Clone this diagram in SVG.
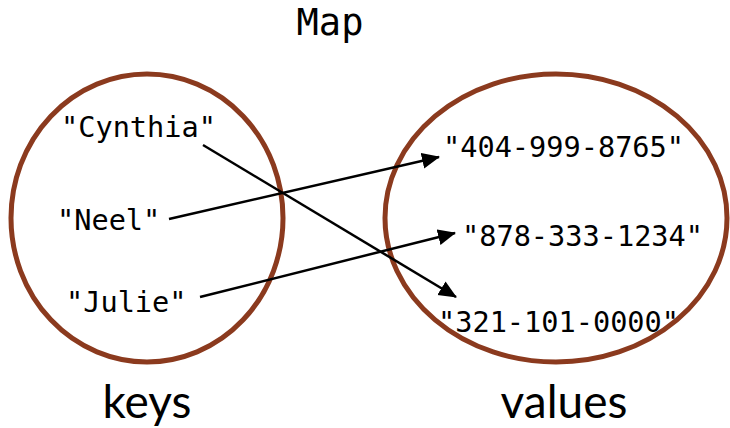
<svg xmlns="http://www.w3.org/2000/svg" width="730" height="428" viewBox="0 0 730 428">
<style>
.set{fill:none;stroke:#8B3A1E;stroke-width:5}
.mono{font-family:"DejaVu Sans Mono","Liberation Mono",monospace;font-size:28.6px;fill:#000}
.title{font-family:"DejaVu Sans Mono","Liberation Mono",monospace;font-size:37px;fill:#000}
.cap{font-family:Lato,"Open Sans",sans-serif;font-size:46px;fill:#000}
.arrow{stroke:#000;stroke-width:2.5;fill:none;marker-end:url(#ah)}
</style>
<defs>
<marker id="ah" markerUnits="userSpaceOnUse" markerWidth="20" markerHeight="18" refX="17" refY="8" orient="auto">
<path d="M0,0 L18,8 L0,16 z" fill="#000"/>
</marker>
</defs>
<rect width="730" height="428" fill="#fff"/>
<g id="title"><text class="title" x="330" y="35" text-anchor="middle">Map</text></g>
<g id="keys-set">
<ellipse class="set" cx="147" cy="218" rx="136" ry="144"/>
<text class="cap" x="147" y="418" text-anchor="middle">keys</text>
</g>
<g id="values-set">
<ellipse class="set" cx="556" cy="218" rx="171" ry="144"/>
<text class="cap" x="564" y="418" text-anchor="middle">values</text>
</g>
<g id="key-cynthia"><text class="mono" x="61" y="137">"Cynthia"</text></g>
<g id="key-neel"><text class="mono" x="57" y="230">"Neel"</text></g>
<g id="key-julie"><text class="mono" x="66" y="312">"Julie"</text></g>
<g id="val-404"><text class="mono" x="443" y="157">"404-999-8765"</text></g>
<g id="val-878"><text class="mono" x="462" y="246">"878-333-1234"</text></g>
<g id="val-321"><text class="mono" x="438" y="332">"321-101-0000"</text></g>
<g id="connectors">
<line class="arrow" x1="203" y1="145" x2="456" y2="297"/>
<line class="arrow" x1="169" y1="219" x2="439" y2="157"/>
<line class="arrow" x1="200" y1="297" x2="455" y2="233"/>
</g>
</svg>
